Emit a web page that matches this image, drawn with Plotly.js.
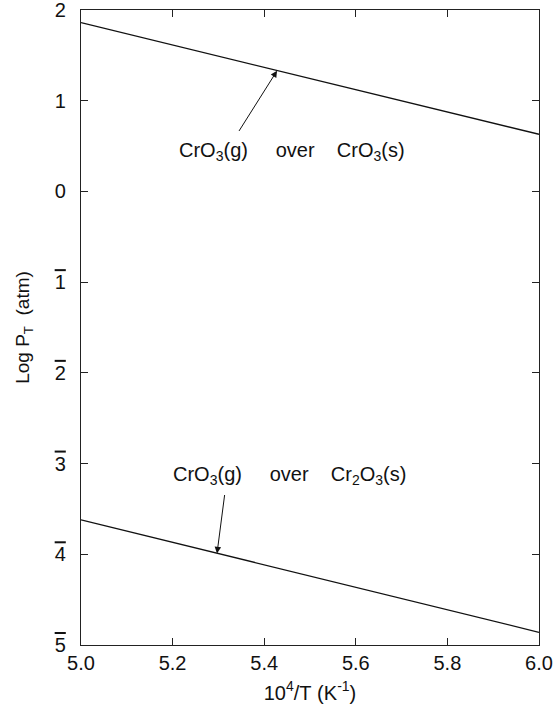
<!DOCTYPE html>
<html>
<head>
<meta charset="utf-8">
<script src="https://cdn.plot.ly/plotly-3.0.1.min.js"></script>
<style>html,body{margin:0;padding:0;background:#fff;}#chart{width:559px;height:711px;}</style>
</head>
<body>
<div id="chart"></div>
<script>
// x values: 10^4/T (K^-1)
const xVals = [5.0, 6.0];
// Log P_T (atm): CrO3(g) over CrO3(s)
const yOverCrO3 = [1.86, 0.63];
// Log P_T (atm): CrO3(g) over Cr2O3(s)
const yOverCr2O3 = [-3.62, -4.86];
// Y tick values and bar-notation labels (negative characteristic shown with an overbar)
const yTickVals = [2, 1, 0, -1, -2, -3, -4, -5];
const yTickDigits = ['2', '1', '0', '1', '2', '3', '4', '5'];
const xTickVals = [5.0, 5.2, 5.4, 5.6, 5.8, 6.0];
const xTickText = ['5.0', '5.2', '5.4', '5.6', '5.8', '6.0'];
// label annotations
const labelTexts = [
  'CrO<sub>3</sub>(g)&nbsp;&nbsp;&nbsp;&nbsp;&nbsp;over&nbsp;&nbsp;&nbsp;&nbsp;CrO<sub>3</sub>(s)',
  'CrO<sub>3</sub>(g)&nbsp;&nbsp;&nbsp;&nbsp;&nbsp;over&nbsp;&nbsp;&nbsp;&nbsp;Cr<sub>2</sub>O<sub>3</sub>(s)'
];
const labelX = [5.46, 5.455];
const labelY = [0.44, -3.13];
// arrow heads (on lines) and tails
const arrowHeadX = [5.428, 5.297];
const arrowHeadY = [1.33, -3.99];
const arrowTailX = [5.343, 5.314];
const arrowTailY = [0.65, -3.33];

const font = 'Liberation Sans, Arial, sans-serif';
const lineStyle = {color: '#111', width: 1.3};

const yTickText = yTickVals.map((v, i) => v < 0
  ? '<span style="text-decoration:overline">' + yTickDigits[i] + '</span>'
  : yTickDigits[i]);

const traces = [
  {x: xVals, y: yOverCrO3, mode: 'lines', line: lineStyle, showlegend: false, hoverinfo: 'skip'},
  {x: xVals, y: yOverCr2O3, mode: 'lines', line: lineStyle, showlegend: false, hoverinfo: 'skip'}
];

const annotations = [];
for (let i = 0; i < labelTexts.length; i++) {
  annotations.push({x: labelX[i], y: labelY[i], xref: 'x', yref: 'y', text: labelTexts[i],
    showarrow: false, font: {family: font, size: 20, color: '#111'}});
  annotations.push({x: arrowHeadX[i], y: arrowHeadY[i], xref: 'x', yref: 'y',
    ax: arrowTailX[i], ay: arrowTailY[i], axref: 'x', ayref: 'y', text: '',
    showarrow: true, arrowhead: 2, arrowsize: 1.3, arrowwidth: 1, arrowcolor: '#111'});
}

const axisCommon = {
  showline: true, linecolor: '#222', linewidth: 1.2, mirror: 'ticks',
  ticks: 'inside', ticklen: 7, tickwidth: 1.2, tickcolor: '#222',
  showgrid: false, zeroline: false, ticklabeloverflow: 'allow',
  tickfont: {family: font, size: 20, color: '#111'}
};

const layout = {
  width: 559, height: 711,
  margin: {l: 81, r: 20, t: 10, b: 66},
  paper_bgcolor: '#fff', plot_bgcolor: '#fff',
  xaxis: Object.assign({}, axisCommon, {
    range: [5.0, 6.0], tickvals: xTickVals, ticktext: xTickText,
    title: {text: '10<sup>4</sup>/T&nbsp;(K<sup>-1</sup>)', font: {family: font, size: 20, color: '#111'}, standoff: 12}
  }),
  yaxis: Object.assign({}, axisCommon, {
    range: [-5, 2], tickvals: yTickVals, ticktext: yTickText, ticklabelstandoff: 10,
    title: {text: 'Log P<sub>T</sub>&nbsp;&nbsp;(atm)', font: {family: font, size: 19, color: '#111'}, standoff: 20}
  }),
  annotations: annotations
};

Plotly.newPlot('chart', traces, layout, {displayModeBar: false, staticPlot: true});
</script>
</body>
</html>
